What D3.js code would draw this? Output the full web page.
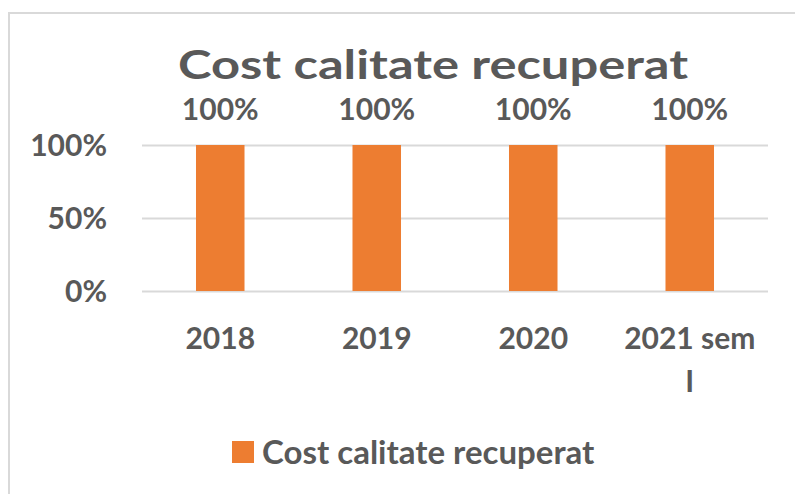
<!DOCTYPE html>
<html>
<head>
<meta charset="utf-8">
<script src="https://cdn.jsdelivr.net/npm/d3@7"></script>
<style>
  body { margin: 0; background: #fff; }
  text { font-family: Lato, "Open Sans", sans-serif; font-weight: bold; fill: #595959; }
</style>
</head>
<body>
<svg id="chart" width="795" height="494"></svg>
<script>
// data
const categories = ["2018", "2019", "2020", "2021 sem I"];
const values = [1, 1, 1, 1];
const yTicks = [0, 0.5, 1];
const seriesName = "Cost calitate recuperat";
const title = "Cost calitate recuperat";

const svg = d3.select("#chart");
const orange = "#ed7d31";
const grid = "#d9d9d9";

// chart frame (cut off on the right and bottom)
svg.append("rect")
    .attr("x", 9).attr("y", 13)
    .attr("width", 830).attr("height", 520)
    .attr("fill", "none")
    .attr("stroke", grid)
    .attr("stroke-width", 2);

let plot = {left: 142, right: 768, top: 145, bottom: 291};

let xScale = d3.scaleBand()
    .domain(categories)
    .range([plot.left, plot.right])
    .paddingInner(0.69)
    .paddingOuter(0.345);

let yScale = d3.scaleLinear()
    .domain([0, 1])
    .range([plot.bottom, plot.top]);

// title - the original is drawn quite wide, so stretch it a bit
svg.append("text")
    .attr("x", 433).attr("y", 79)
    .attr("text-anchor", "middle")
    .attr("textLength", 510)
    .attr("lengthAdjust", "spacingAndGlyphs")
    .style("font-size", "41px")
    .text(title);

// y axis + gridlines
let yAxis = d3.axisLeft(yScale)
    .tickValues(yTicks)
    .tickFormat(d3.format(".0%"))
    .tickSize(-(plot.right - plot.left))
    .tickPadding(35);

let gy = svg.append("g")
    .attr("transform", "translate(" + plot.left + ",0)")
    .call(yAxis);
gy.select(".domain").remove();
gy.selectAll("line").attr("stroke", grid).attr("stroke-width", 2);
gy.selectAll("text")
    .attr("dy", "0.36em")
    .style("font-size", "30px")
    .style("fill", "#595959");

// bars
svg.append("g").selectAll("rect")
    .data(values)
    .enter().append("rect")
    .attr("x", (d, i) => xScale(categories[i]))
    .attr("y", d => yScale(d))
    .attr("width", xScale.bandwidth())
    .attr("height", d => yScale(0) - yScale(d))
    .attr("fill", orange);

// data labels
svg.append("g").selectAll("text")
    .data(values)
    .enter().append("text")
    .attr("x", (d, i) => xScale(categories[i]) + xScale.bandwidth() / 2)
    .attr("y", d => yScale(d) - 25)
    .attr("text-anchor", "middle")
    .style("font-size", "30px")
    .text(d => d3.format(".0%")(d));

// x axis labels
let xAxis = d3.axisBottom(xScale).tickSize(0).tickPadding(0);
let gx = svg.append("g")
    .attr("transform", "translate(0," + plot.bottom + ")")
    .call(xAxis);
gx.select(".domain").remove();
gx.selectAll("text")
    .style("font-size", "30px")
    .style("fill", "#595959")
    .attr("y", 58)
    .attr("dy", 0)
    .call(wrap, xScale.step() * 0.9);

function wrap(texts, width) {
    texts.each(function () {
        let text = d3.select(this);
        let words = text.text().split(/\s+/).reverse();
        let line = [];
        let lineNo = 0;
        let y = text.attr("y");
        let tspan = text.text(null).append("tspan").attr("x", 0).attr("y", y);
        let word;
        while ((word = words.pop())) {
            line.push(word);
            tspan.text(line.join(" "));
            if (tspan.node().getComputedTextLength() > width && line.length > 1) {
                line.pop();
                tspan.text(line.join(" "));
                line = [word];
                lineNo++;
                tspan = text.append("tspan").attr("x", 0).attr("y", +y + lineNo * 43).text(word);
            }
        }
    });
}

// legend
let legend = svg.append("g").attr("transform", "translate(232,441)");
legend.append("rect")
    .attr("width", 22).attr("height", 22)
    .attr("fill", orange);
legend.append("text")
    .attr("x", 30).attr("y", 23)
    .style("font-size", "33px")
    .text(seriesName);
</script>
</body>
</html>
